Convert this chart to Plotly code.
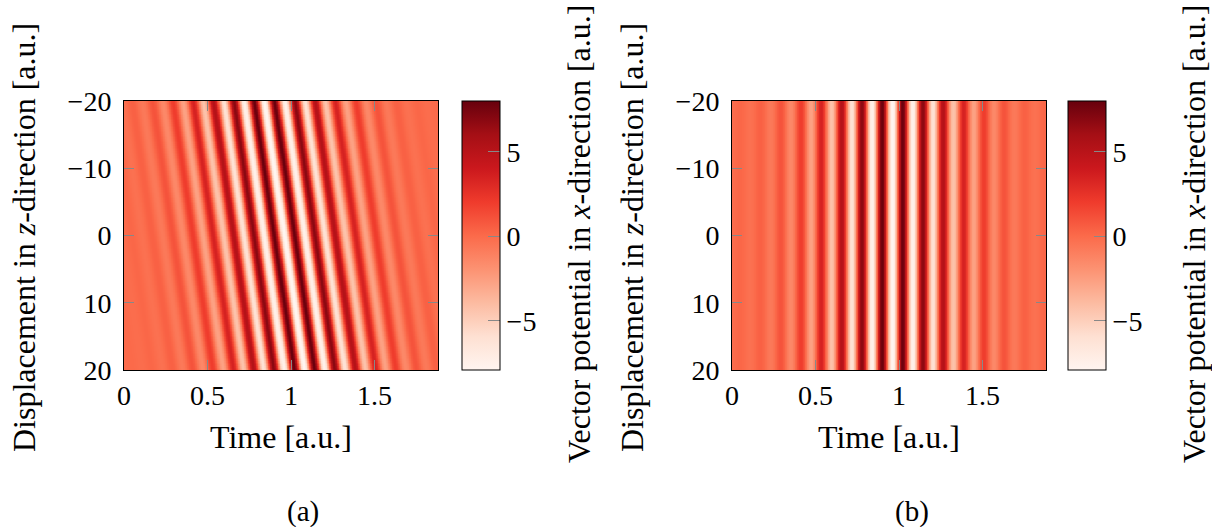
import numpy as np
import plotly.graph_objects as go

# ---- values ----
time_max = 1.88            # right end of the time axis [a.u.]
z_min, z_max = -20, 20     # displacement range [a.u.]
peak_amplitude = 8.0       # maximum of the vector potential
carrier_period = 0.122     # temporal period of the fringes
pulse_center = 0.96        # time of the central (white) fringe at z = 0
envelope_width = 0.33      # Gaussian width of the pulse envelope
delay_per_z_a = 0.006      # time delay per unit displacement, panel (a)
delay_per_z_b = 0.0        # panel (b): no tilt
color_min, color_max = -7.9, 8.0

x_ticks = [0, 0.5, 1, 1.5]
x_tick_text = ["0", "0.5", "1", "1.5"]
y_ticks = [-20, -10, 0, 10, 20]
cb_ticks = [-5, 0, 5]

t = np.linspace(0, time_max, 470)
z = np.linspace(z_min, z_max, 160)
T, Z = np.meshgrid(t, z)


def field(delay):
    tau = T - pulse_center - delay * Z
    env = np.exp(-tau ** 2 / (2 * envelope_width ** 2))
    return -peak_amplitude * env * np.cos(2 * np.pi * tau / carrier_period)


A_a = field(delay_per_z_a)
A_b = field(delay_per_z_b)

FONT = "Liberation Serif"
W, H = 1212, 527
CB_W = 38

# layout geometry (pixels)
plots = [
    dict(x0=124, x1=438, cb=462, ylab=24, cblab=579, cap=(303, 511), cap_text="(a)"),
    dict(x0=732, x1=1046, cb=1068, ylab=632, cblab=1194, cap=(912, 511), cap_text="(b)"),
]
py0, py1 = 101, 370

fig = go.Figure()
for i, (A, p) in enumerate(zip([A_a, A_b], plots)):
    xa = "x" if i == 0 else "x2"
    ya = "y" if i == 0 else "y2"
    fig.add_trace(go.Heatmap(
        x=t, y=z, z=A, xaxis=xa, yaxis=ya,
        colorscale="Reds", zmin=color_min, zmax=color_max,
        colorbar=dict(
            x=p["cb"] / W, xanchor="left", xref="paper",
            y=1 - (py0 + py1) / 2 / H, yanchor="middle",
            len=(py1 - py0) / H, lenmode="fraction",
            thickness=CB_W, thicknessmode="pixels",
            outlinecolor="black", outlinewidth=1,
            tickvals=cb_ticks, ticks="inside", ticklen=12,
            tickcolor="#888888", tickwidth=1,
            tickfont=dict(family=FONT, size=28, color="black"),
            xpad=0, ypad=0,
        ),
        hoverinfo="skip",
    ))

axis_common = dict(
    showline=True, linecolor="black", linewidth=1, mirror="all",
    ticks="inside", ticklen=10, tickcolor="#888888", tickwidth=1,
    showgrid=False, zeroline=False, automargin=False,
    tickfont=dict(family=FONT, size=28, color="black"),
)

fig.update_layout(
    width=W, height=H, autosize=False,
    margin=dict(l=0, r=0, t=0, b=0, autoexpand=False),
    paper_bgcolor="white", plot_bgcolor="white",
    showlegend=False,
    xaxis=dict(domain=[124 / W, 438 / W], range=[0, time_max], anchor="y",
               tickvals=x_ticks, ticktext=x_tick_text, **axis_common),
    yaxis=dict(domain=[1 - py1 / H, 1 - py0 / H], range=[z_max, z_min], anchor="x",
               tickvals=y_ticks, ticklabelstandoff=6, **axis_common),
    xaxis2=dict(domain=[732 / W, 1046 / W], range=[0, time_max], anchor="y2",
                tickvals=x_ticks, ticktext=x_tick_text, **axis_common),
    yaxis2=dict(domain=[1 - py1 / H, 1 - py0 / H], range=[z_max, z_min], anchor="x2",
                tickvals=y_ticks, ticklabelstandoff=6, **axis_common),
)

# left-side tick dashes of the colour bars (mirror of the inside ticks)
shapes = []
for p in plots:
    for v in cb_ticks:
        yp = py1 - (v - color_min) / (color_max - color_min) * (py1 - py0)
        shapes.append(dict(type="line", xref="paper", yref="paper",
                           x0=p["cb"] / W, x1=(p["cb"] + 12) / W,
                           y0=1 - yp / H, y1=1 - yp / H,
                           line=dict(color="#888888", width=1)))
fig.update_layout(shapes=shapes)

ann = []


def add_text(text, x, y, size, angle=0):
    ann.append(dict(text=text, x=x / W, y=1 - y / H, xref="paper", yref="paper",
                    xanchor="center", yanchor="middle", showarrow=False,
                    textangle=angle, font=dict(family=FONT, size=size, color="black")))


for p in plots:
    add_text("Time [a.u.]", (p["x0"] + p["x1"]) / 2, 437, 32)
    add_text("Displacement in <i>z</i>-direction [a.u.]", p["ylab"], 238, 32, -90)
    add_text("Vector potential in <i>x</i>-direction [a.u.]", p["cblab"], 234, 32, -90)
    add_text(p["cap_text"], p["cap"][0], p["cap"][1], 29)
fig.update_layout(annotations=ann)

fig.write_html("out.html")
